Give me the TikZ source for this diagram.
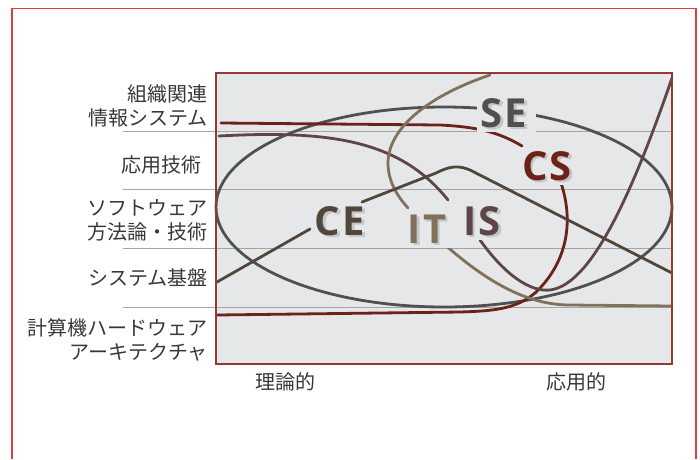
\documentclass[tikz,border=0pt]{standalone}
\usepackage{fontspec}
\newfontfamily\jpfont{Noto Sans CJK JP}
\newfontfamily\labfont{Open Sans}[LetterSpace=6]
\definecolor{framered}{HTML}{E03A45}
\definecolor{boxgray}{HTML}{E6E7E9}
\definecolor{boxborder}{HTML}{923B2E}
\definecolor{gridgray}{HTML}{A4A4A6}
\definecolor{txtgray}{HTML}{383838}
\definecolor{segray}{HTML}{505052}
\definecolor{csred}{HTML}{6C2218}
\definecolor{isbrown}{HTML}{5E4547}
\definecolor{itbeige}{HTML}{80715A}
\definecolor{ceolive}{HTML}{50463A}
\definecolor{shadowgray}{HTML}{C6C6C8}
\tikzset{
  jp/.style={font=\jpfont\fontsize{20}{24}\selectfont, text=txtgray, align=right, inner sep=0pt, anchor=east},
  axis/.style={font=\jpfont\fontsize{20}{24}\selectfont, text=txtgray, inner sep=0pt},
  lab/.style={font=\labfont\bfseries\fontsize{40}{42}\selectfont, inner sep=2pt},
  labshadow/.style={lab, text=shadowgray, fill=boxgray},
  curve/.style={line width=2.8pt, line cap=round},
  gridline/.style={draw=gridgray, line width=0.9pt},
}
\begin{document}
\begin{tikzpicture}[x=1pt,y=-1pt]
\useasboundingbox (0,0) rectangle (700,459);
% outer frame
\draw[framered, line width=1.5pt] (12,459) -- (12,8.5) -- (696,8.5) -- (696,459);
% chart background
\fill[boxgray] (216,73) rectangle (672,364);
% grid lines
\foreach \yy/\nm in {131/a,189/b,248/c,307/d}{
  \coordinate (gl\nm) at (123,\yy);
  \coordinate (gr\nm) at (672,\yy);
  \draw[gridline] (gl\nm) -- (gr\nm);
}
% SE ellipse
\coordinate (ec) at (444,207);
\draw[segray, line width=2.8pt] (ec) ellipse [x radius=228pt, y radius=100pt];
% curve end points
\coordinate (csA) at (221,123);
\coordinate (csB) at (522,146);
\coordinate (csC) at (561,183);
\coordinate (csD) at (217,315);
\coordinate (isA) at (219,136);
\coordinate (isB) at (448,200);
\coordinate (isC) at (480,240);
\coordinate (isD) at (672,78);
\coordinate (itA) at (490,75);
\coordinate (itB) at (408,208);
\coordinate (itC) at (443,243);
\coordinate (itD) at (672,306);
\coordinate (ceA) at (217,282);
\coordinate (ceB) at (310,229);
\coordinate (ceC) at (362,202);
\coordinate (ceD) at (672,273);
% CS curve
\draw[curve, csred] (csA) -- (440,125) .. controls (480,127) and (500,133) .. (csB);
\draw[curve, csred] (csC) .. controls (575,225) and (565,265) .. (535,293)
   .. controls (515,310) and (490,311) .. (460,312) -- (csD);
% IS curve
\draw[curve, isbrown] (isA) .. controls (330,130) and (400,140) .. (isB);
\draw[curve, isbrown] (isC) .. controls (505,275) and (530,292) .. (550,290)
   .. controls (590,285) and (630,200) .. (isD);
% IT curve
\draw[curve, itbeige] (itA) .. controls (425,97) and (388,130) .. (388,163)
   .. controls (388,182) and (398,197) .. (itB);
\draw[curve, itbeige] (itC) .. controls (490,285) and (530,305) .. (570,305) -- (itD);
% CE curve
\draw[curve, ceolive] (ceA) -- (ceB);
\draw[curve, ceolive] (ceC) -- (436,173) .. controls (450,166) and (458,165) .. (470,170) -- (ceD);
% label shadows
\node[labshadow, inner xsep=6pt] (SEs) at (506.5,115.5) {SE};
\node[labshadow] (CSs) at (549.5,168.5) {CS};
\node[labshadow] (CEs) at (342.5,223.5) {CE};
\node[labshadow] (ITs) at (429.5,231.5) {IT};
\node[labshadow] (ISs) at (484.5,223.5) {IS};
% labels
\node[lab, text=segray] (SE) at (504,113) {SE};
\node[lab, text=csred] (CS) at (547,166) {CS};
\node[lab, text=ceolive] (CE) at (340,221) {CE};
\node[lab, text=itbeige] (IT) at (427,229) {IT};
\node[lab, text=isbrown] (IS) at (482,221) {IS};
% chart border
\draw[boxborder, line width=2.5pt] (216,73) rectangle (672,364);
% row labels
\node[jp] (r1) at (208,106) {組織関連\\情報システム};
\node[jp] (r2) at (202,165) {応用技術};
\node[jp] (r3) at (208,220) {ソフトウェア\\方法論・技術};
\node[jp] (r4) at (208,278) {システム基盤};
\node[jp] (r5) at (208,340) {計算機ハードウェア\\アーキテクチャ};
% axis labels
\node[axis] (x1) at (285,382) {理論的};
\node[axis] (x2) at (576,382) {応用的};
\end{tikzpicture}
\end{document}
